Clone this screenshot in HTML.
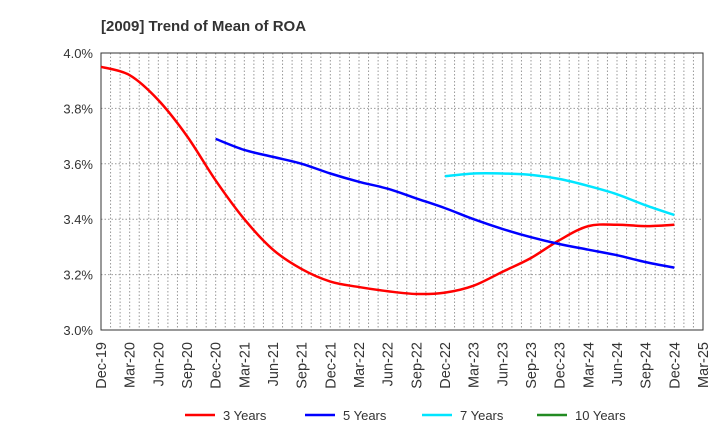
<!DOCTYPE html>
<html><head><meta charset="utf-8"><style>
body{margin:0;background:#fff;font-family:"Liberation Sans",sans-serif;}
svg text{font-family:"Liberation Sans",sans-serif;}
</style></head><body>
<svg id="c" width="720" height="440">
<text x="101" y="31" font-size="15" font-weight="bold" fill="#333">[2009]  Trend of Mean of ROA</text>
</svg>
<script>
const xLabels=["Dec-19","Mar-20","Jun-20","Sep-20","Dec-20","Mar-21","Jun-21","Sep-21","Dec-21","Mar-22","Jun-22","Sep-22","Dec-22","Mar-23","Jun-23","Sep-23","Dec-23","Mar-24","Jun-24","Sep-24","Dec-24","Mar-25"];
const yTicks=[3.0,3.2,3.4,3.6,3.8,4.0];
const s3=[3.95,3.92,3.83,3.70,3.54,3.40,3.29,3.22,3.175,3.155,3.14,3.13,3.135,3.16,3.21,3.26,3.325,3.375,3.38,3.375,3.38];
const s5=[3.69,3.65,3.625,3.60,3.565,3.535,3.51,3.475,3.44,3.40,3.365,3.335,3.31,3.29,3.27,3.245,3.225];
const s7=[3.555,3.565,3.565,3.56,3.545,3.52,3.49,3.45,3.415];
const s10=[];
const series=[{name:"3 Years",d:s3,start:0,c:"#ff0000"},{name:"5 Years",d:s5,start:4,c:"#0000ff"},{name:"7 Years",d:s7,start:12,c:"#00e5ff"},{name:"10 Years",d:s10,start:16,c:"#228b22"}];
const svg=document.getElementById('c'),NS="http://www.w3.org/2000/svg";
const L=101,R=703,T=53,B=330;
const xq=i=>L+(R-L)*i/21, ym=m=>L+(R-L)*m/63, y=v=>B-(v-3)/1*(B-T);
function mk(t,a,p){const e=document.createElementNS(NS,t);for(const k in a)e.setAttribute(k,a[k]);(p||svg).appendChild(e);return e;}
for(let m=1;m<63;m++){const g=mk('line',{x1:ym(m),x2:ym(m),y1:T,y2:B,stroke:'#999','stroke-dasharray':'1.5,2','stroke-width':1});
}
yTicks.forEach(v=>{if(v>3&&v<4){const g=mk('line',{x1:L,x2:R,y1:y(v),y2:y(v),stroke:'#999','stroke-dasharray':'1.5,2'});}
const t=mk('text',{x:L-8,y:y(v)+5,'text-anchor':'end','font-size':13,fill:'#333'});t.textContent=v.toFixed(1)+'%';
});
const fr=mk('rect',{x:L,y:T,width:R-L,height:B-T,fill:'none',stroke:'#333','stroke-width':1});

xLabels.forEach((s,i)=>{const x=xq(i);const t=mk('text',{transform:`translate(${x+5},${B+12}) rotate(-90)`,'text-anchor':'end','font-size':14.5,fill:'#333'});t.textContent=s;
});
series.forEach(s=>{if(s.d.length<2)return;const p=s.d.map((v,i)=>[xq(s.start+i),y(v)]);
let d=`M${p[0][0]},${p[0][1]}`;for(let i=0;i<p.length-1;i++){const p0=p[Math.max(0,i-1)],p1=p[i],p2=p[i+1],p3=p[Math.min(p.length-1,i+2)];
d+=` C${p1[0]+(p2[0]-p0[0])/6},${p1[1]+(p2[1]-p0[1])/6} ${p2[0]-(p3[0]-p1[0])/6},${p2[1]-(p3[1]-p1[1])/6} ${p2[0]},${p2[1]}`;}
const e=mk('path',{d:d,fill:'none',stroke:s.c,'stroke-width':2.5});
});
const lx=[185,305,422,537];
series.forEach((s,i)=>{const g=mk('g',{});
mk('line',{x1:lx[i],x2:lx[i]+30,y1:415,y2:415,stroke:s.c,'stroke-width':2.5},g);
const t=mk('text',{x:lx[i]+38,y:420,'font-size':13,fill:'#333'},g);t.textContent=s.name;});
</script>
</body></html>
